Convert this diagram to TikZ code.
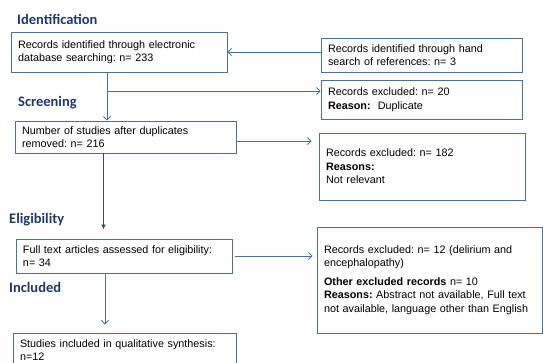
\documentclass[tikz,border=0pt]{standalone}
\usepackage{fontspec}
\setmainfont{Liberation Sans}
\newfontfamily\headfont{Carlito}
\usepackage{xcolor}
\usepackage{tikz}
\usetikzlibrary{arrows.meta,positioning,calc}
\definecolor{boxline}{HTML}{4A7298}
\definecolor{headblue}{HTML}{1F3864}
\definecolor{darkarrow}{HTML}{2E4A7A}
\frenchspacing
\tikzset{
box/.style = {draw=boxline, line width=0.9pt, fill=white, rectangle, align=left, inner xsep=7pt, inner ysep=2pt,
              font=\fontsize{10.8}{13.5}\selectfont},
stage/.style = {anchor=west, inner sep=0pt, text=headblue, font=\headfont\bfseries\fontsize{14.5}{16}\selectfont},
line/.style = {draw=boxline, line width=0.9pt},
arr/.style = {line, -{Straight Barb[length=3.5pt,width=7pt]}},
filledarr/.style = {draw=darkarrow, line width=1pt, -{Latex[length=5pt,width=5pt]}}
}
\begin{document}
\begin{tikzpicture}[x=1pt, y=-1pt]
    \useasboundingbox (0,0) rectangle (543,362);
    \clip (0,0) rectangle (543,362);
    % stage headings
    \node [stage] (ident) at (17,19) {Identification};
    \node [stage] (screen) at (18,103) {Screening};
    \node [stage] (elig) at (9,220) {Eligibility};
    \node [stage] (incl) at (9,287) {Included};
    % boxes
    \node [box, text width=202pt, minimum height=40pt] (A) at (119,52) {Records identified through electronic\\database searching: n= 233};
    \node [box, text width=187pt, minimum height=34pt] (B) at (421.5,55) {Records identified through hand\\search of references: n= 3};
    \node [box, text width=187pt, minimum height=39pt] (C) at (421.5,99.5) {Records excluded: n= 20\\\textbf{Reason:}~ Duplicate};
    \node [box, text width=207pt, minimum height=32pt] (D) at (125.5,137) {Number of studies after duplicates\\removed: n= 216};
    \node [box, text width=192pt, minimum height=67pt] (E) at (422,166.5) {Records excluded: n= 182\\\textbf{Reasons:}\\Not relevant};
    \node [box, text width=202pt, minimum height=34pt] (F) at (124,256) {Full text articles assessed for eligibility:\\n= 34};
    \node [box, text width=211pt, minimum height=106pt] (G) at (429.5,280) {Records excluded: n= 12 (delirium and\\encephalopathy)\\[5pt]\textbf{Other excluded records} n= 10\\\textbf{Reasons:} Abstract not available, Full text\\not available, language other than English};
    \node [box, text width=209pt, minimum height=34pt] (H) at (124.5,350) {Studies included in qualitative synthesis:\\n=12};
    \coordinate (split) at (107,91);
    % connectors
    \draw [arr] (B.west |- A.east) -- (A.east);
    \draw [arr] (A.south -| split) -- (D.north -| split);
    \draw [arr] (split) -- (split -| C.west);
    \draw [arr, shorten >=7pt] ([yshift=-4pt]D.east) -- ([yshift=-4pt]D.east -| E.west);
    \draw [filledarr, shorten >=9pt] ([xshift=-22pt]D.south) -- ([xshift=-22pt]D.south |- F.north);
    \draw [arr, shorten <=3pt, shorten >=4pt] (F.east) -- (F.east -| G.west);
    \draw [arr, shorten >=8pt] ([xshift=-19pt]F.south) -- ([xshift=-19pt]F.south |- H.north);
\end{tikzpicture}
\end{document}
